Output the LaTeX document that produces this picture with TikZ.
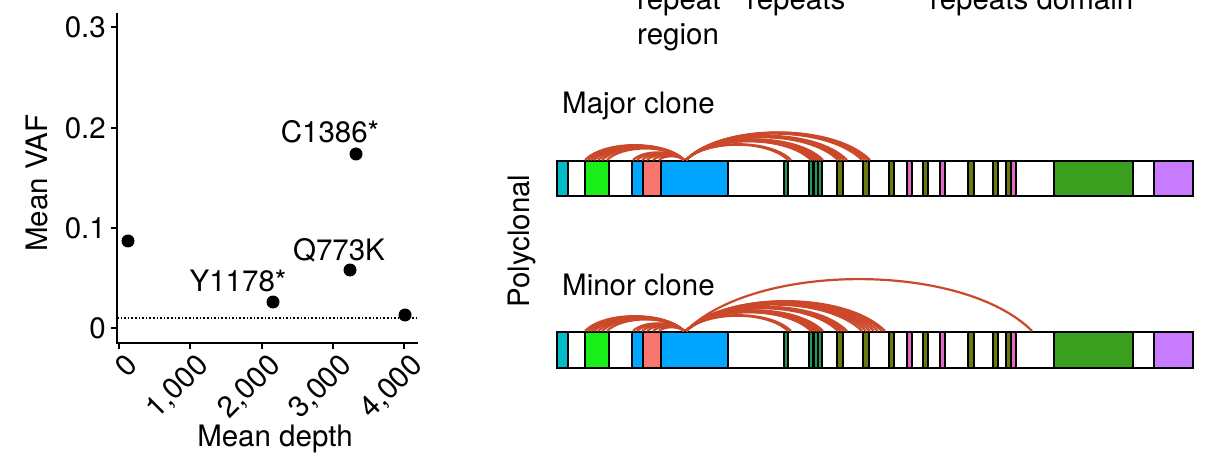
\documentclass[tikz,border=0pt]{standalone}
\usepackage{fontspec}
\setmainfont{TeX Gyre Heros}
\definecolor{arcc}{HTML}{CB482B}
\definecolor{dcyan}{HTML}{00BCC6}
\definecolor{dlime}{HTML}{19EE19}
\definecolor{dblue}{HTML}{00A6FF}
\definecolor{dsalmon}{HTML}{F8766D}
\definecolor{dteal}{HTML}{1E9A5C}
\definecolor{dolive}{HTML}{6B7A0E}
\definecolor{dpink}{HTML}{E468C6}
\definecolor{dgreen}{HTML}{3A9F1F}
\definecolor{dpurple}{HTML}{C77CFF}
\begin{document}
\begin{tikzpicture}[x=1pt,y=-1pt,
  lbl/.style={font=\fontsize{29.5}{35}\selectfont, inner sep=0pt},
  axisline/.style={line width=2pt, black},
  pt/.style={circle, fill=black, minimum size=13pt, inner sep=0pt},
  seg/.style={draw=black, line width=1.2pt},
  arcline/.style={draw=arcc, line width=2.2pt}]
\useasboundingbox (0,0) rectangle (1225,462);
\clip (0,0) rectangle (1225,462);
\fill[white] (0,0) rectangle (1225,462);
% ---------- scatter plot ----------
\draw[axisline] (117,13) -- (117,343) -- (418,343);
\foreach \v/\y in {0.3/27,0.2/128,0.1/228,0/328}{
  \draw[axisline] (111,\y) -- (117,\y);
  \node[lbl, anchor=east] at (106,\y) {\v};
}
\foreach \v/\x in {0/119,{1,000}/190,{2,000}/262,{3,000}/333,{4,000}/404}{
  \draw[axisline] (\x,343) -- (\x,349);
  \node[lbl, anchor=north east, rotate=45] at (\x+5,352) {\v};
}
\node[lbl, rotate=90] (ylab) at (37,183) {Mean VAF};
\node[lbl, anchor=base] (xlab) at (275,446) {Mean depth};
\draw[line width=1.6pt, dotted] (117,318) -- (418,318);
\node[pt] (p1) at (128,241) {};
\node[pt] (p2) at (273,302) {};
\node[pt] (p3) at (350,270) {};
\node[pt] (p4) at (356,154) {};
\node[pt] (p5) at (405,315) {};
\node[lbl, anchor=base] (l4) at (330,143) {C1386*};
\node[lbl, anchor=base] (l3) at (339,261) {Q773K};
\node[lbl, anchor=base] (l2) at (238,291) {Y1178*};
% ---------- domain labels (cropped) ----------
\node[lbl, anchor=base west] (d1) at (637,10) {repeat};
\node[lbl, anchor=base west] (d1b) at (637,45) {region};
\node[lbl, anchor=base west] (d2) at (747,10) {repeats};
\node[lbl, anchor=base west] (d3) at (930,10) {repeats domain};
\node[lbl, rotate=90] (poly) at (522,241) {Polyclonal};
\node[lbl, anchor=base west] (maj) at (562,114) {Major clone};
\node[lbl, anchor=base west] (min) at (562,295) {Minor clone};
% ---------- bars ----------
\foreach \yt/\yb in {161/196, 332/368}{
  \fill[white] (557,\yt) rectangle (1193,\yb);
  \foreach \a/\b/\c in {557/568/dcyan, 585/609/dlime, 632/643/dblue, 643/661/dsalmon, 661/728/dblue,
      784/788/dteal, 809/813/dteal, 814/818/dteal, 818/822/dteal, 837/843/dolive, 863/869/dolive,
      889/894/dolive, 907/912/dpink, 923/928/dolive, 940/945/dpink, 968/974/dolive, 993/998/dolive,
      1006/1011/dolive, 1011/1016/dpink, 1054/1133/dgreen, 1154/1193/dpurple}{
    \filldraw[seg, fill=\c] (\a,\yt) rectangle (\b,\yb);
  }
  \draw[seg] (557,\yt) rectangle (1193,\yb);
}
% ---------- arcs ----------
\newcommand{\myarc}[3]{%
  \pgfmathsetmacro\sp{#2-#1}%
  \pgfmathsetmacro\hh{0.15*\sp*4/3}%
  \draw[arcline] (#1,#3) .. controls ({#1+0.2*\sp},{#3-\hh}) and ({#2-0.2*\sp},{#3-\hh}) .. (#2,#3);}
% major clone
\foreach \a in {585,588,591,594,598,602,607,633,637,642,647,653,659}{\myarc{\a}{684}{160}}
\foreach \b in {788,791,811,813,815,817,819,821,823,838,841,844,847,862,865,868,870}{\myarc{686}{\b}{160}}
% minor clone
\foreach \a in {585,588,591,594,598,602,607,633,637,642,647,653,659}{\myarc{\a}{684}{331}}
\foreach \b in {788,791,811,813,815,817,819,821,823,838,841,844,847,862,866,870,874,878,882,885}{\myarc{686}{\b}{331}}
\myarc{686}{1032}{331}
\end{tikzpicture}
\end{document}
